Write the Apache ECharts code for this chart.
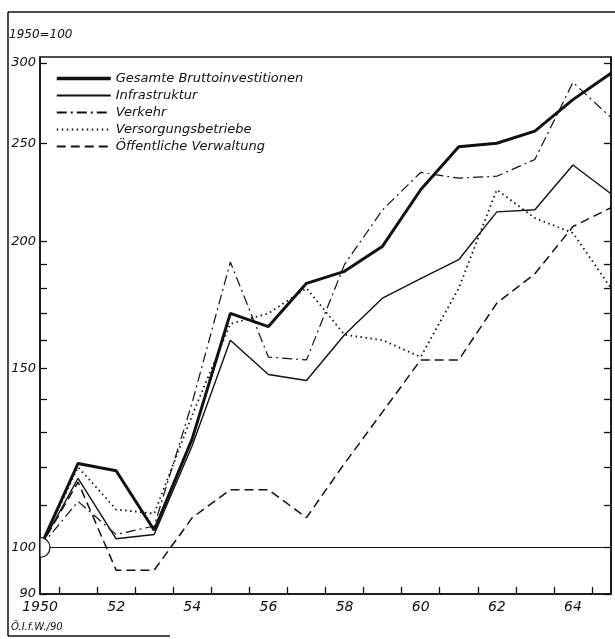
<!DOCTYPE html>
<html>
<head>
<meta charset="utf-8">
<script src="https://cdn.jsdelivr.net/npm/echarts@6/dist/echarts.min.js"></script>
<style>
html,body{margin:0;padding:0;background:#fff;}
#c{width:615px;height:639px;}
</style>
</head>
<body>
<div id="c"></div>
<script>
// ---- data (index 1950 = 100) ----
const years = [1950,1951,1952,1953,1954,1955,1956,1957,1958,1959,1960,1961,1962,1963,1964,1965];
const gesamte      = [100,121,119,104,128,170,165,182,187,198,225,248,250,257,276,293];
const infrastruktur= [100,117,102,103,126,160,148,146,162,176,184,192,214,215,238,223];
const verkehr      = [100,111,103,105,139,191,154,153,190,215,234,231,232,241,287,265];
const versorgung   = [100,120,109,108,135,166,170,180,162,160,154,180,225,211,204,180];
const verwaltung   = [100,116, 95, 95,107,114,114,107,121,136,153,153,174,186,207,216];

const seriesNames = ['Gesamte Bruttoinvestitionen','Infrastruktur','Verkehr','Versorgungsbetriebe','Öffentliche Verwaltung'];
const xLabelYears = [1950,1952,1954,1956,1958,1960,1962,1964];
const xLabelTexts = ['1950','52','54','56','58','60','62','64'];
const yLabelValues = [90,100,150,200,250,300];
const yTickValues = [90,100,110,120,130,140,150,160,170,180,190,200,250,300];
const baseValue = 100;
const baseNote = '1950=100';
const sourceNote = 'Ö.I.f.W./90';

const pair = arr => years.map((y,i)=>[y,arr[i]]);
const INK = '#111';
const FONT = '"DejaVu Sans", sans-serif';

const chart = echarts.init(document.getElementById('c'), null, {renderer:'canvas'});

const yCommon = {
  type:'log', logBase:10, min:90, max:304,
  splitLine:{show:false}, minorTick:{show:false},
  axisLine:{show:true, lineStyle:{color:INK, width:1.5}}
};

chart.setOption({
  backgroundColor:'#fff',
  animation:false,
  textStyle:{fontFamily:FONT},
  grid:{left:40, right:4, top:57, bottom:45, show:true, borderColor:INK, borderWidth:1.5, backgroundColor:'transparent'},
  legend:{
    orient:'vertical', left:50, top:67, itemWidth:54, itemHeight:10, itemGap:4,
    data:[
      {name:seriesNames[0], lineStyle:{width:3.5}},
      seriesNames[1], seriesNames[2], seriesNames[3], seriesNames[4]
    ],
    itemStyle:{opacity:0, borderWidth:0},
    textStyle:{fontFamily:FONT, fontStyle:'italic', fontSize:13, color:INK}
  },
  xAxis:{
    type:'value', min:1950, max:1965,
    splitLine:{show:false},
    axisLine:{lineStyle:{color:INK, width:1.5}},
    axisTick:{inside:true, length:7, lineStyle:{color:INK, width:1.3},
      customValues: years.slice(0,-1).map(y=>y+0.5)},
    axisLabel:{customValues:xLabelYears, color:INK, fontFamily:FONT, fontStyle:'italic', fontSize:14, margin:6,
      formatter:v=>xLabelTexts[xLabelYears.indexOf(v)]}
  },
  yAxis:[
    Object.assign({}, yCommon, {
      position:'left',
      axisTick:{inside:true, length:7, customValues:yTickValues, lineStyle:{color:INK, width:1.3}},
      axisLabel:{customValues:yLabelValues, color:INK, fontFamily:FONT, fontStyle:'italic', fontSize:13, margin:4}
    }),
    Object.assign({}, yCommon, {
      position:'right',
      axisTick:{inside:true, length:7, customValues:yTickValues, lineStyle:{color:INK, width:1.3}},
      axisLabel:{show:false}
    })
  ],
  graphic:[
    {type:'line', shape:{x1:8,y1:12,x2:615,y2:12}, style:{stroke:INK, lineWidth:1.5}},
    {type:'line', shape:{x1:8,y1:12,x2:8,y2:636}, style:{stroke:INK, lineWidth:1.5}},
    {type:'line', shape:{x1:8,y1:636,x2:170,y2:636}, style:{stroke:INK, lineWidth:1.5}},
    {type:'text', left:9, top:29, style:{text:baseNote, fill:INK, font:'italic 12px "DejaVu Sans", sans-serif'}},
    {type:'text', left:11, top:622, style:{text:sourceNote, fill:INK, font:'italic 10px "DejaVu Sans", sans-serif'}}
  ],
  series:[
    {name:seriesNames[0], type:'line', data:pair(gesamte), symbol:'none', z:5,
      lineStyle:{color:INK, width:3}, itemStyle:{color:INK},
      markLine:{silent:true, symbol:'none', label:{show:false},
        lineStyle:{color:INK, width:1.2, type:'solid'}, data:[{yAxis:baseValue}]}},
    {name:seriesNames[1], type:'line', data:pair(infrastruktur), symbol:'none', z:4,
      lineStyle:{color:INK, width:1.4}, itemStyle:{color:INK}},
    {name:seriesNames[2], type:'line', data:pair(verkehr), symbol:'none', z:4,
      lineStyle:{color:INK, width:1.2, type:[10,4,2,4]}, itemStyle:{color:INK}},
    {name:seriesNames[3], type:'line', data:pair(versorgung), symbol:'none', z:4,
      lineStyle:{color:INK, width:1.8, type:[1.5,3.5]}, itemStyle:{color:INK}},
    {name:seriesNames[4], type:'line', data:pair(verwaltung), symbol:'none', z:4,
      lineStyle:{color:INK, width:1.5, type:[9,5]}, itemStyle:{color:INK}},
    {type:'custom', data:[[years[0], baseValue]], z:10, silent:true, clip:false,
      renderItem:(params, api)=>{
        const p = api.coord([api.value(0), api.value(1)]);
        return {type:'sector', shape:{cx:p[0], cy:p[1], r0:0, r:10, startAngle:-Math.PI/2, endAngle:Math.PI/2},
          style:{fill:'#fff', stroke:INK, lineWidth:1.2}};
      }}
  ]
});
</script>
</body>
</html>
